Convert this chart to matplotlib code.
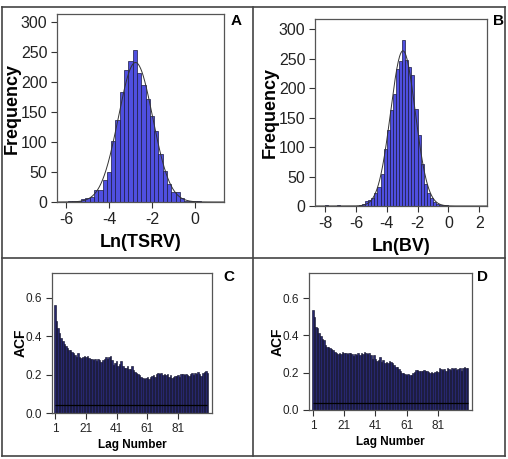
import numpy as np
import matplotlib
matplotlib.use("Agg")
import matplotlib.pyplot as plt
from matplotlib.lines import Line2D

plt.rcParams["font.family"] = ["Liberation Sans", "DejaVu Sans"]
plt.rcParams["axes.unicode_minus"] = False

# --- histogram A: Ln(TSRV), bin width 0.2 ---
tsrv_centers = [-5.8, -5.6, -5.4, -5.2, -5.0, -4.8, -4.6, -4.4, -4.2, -4.0,
                -3.8, -3.6, -3.4, -3.2, -3.0, -2.8, -2.6, -2.4, -2.2, -2.0,
                -1.8, -1.6, -1.4, -1.2, -1.0, -0.8, -0.6, -0.4, -0.2, 0.0, 0.2]
tsrv_counts = [1, 1, 2, 5, 7, 9, 20, 20, 36, 50,
               102, 137, 183, 220, 235, 254, 215, 196, 172, 143,
               118, 80, 52, 30, 17, 16, 6, 2, 1, 2, 2]

# --- histogram B: Ln(BV), bin width 0.2 ---
bv_centers = [-7.9, -7.1, -5.7, -5.5, -5.3, -5.1, -4.9, -4.7, -4.5, -4.3,
              -4.1, -3.9, -3.7, -3.5, -3.3, -3.1, -2.9, -2.7, -2.5, -2.3,
              -2.1, -1.9, -1.7, -1.5, -1.3, -1.1, -0.9, -0.7, -0.5, -0.3, -0.1]
bv_counts = [1, 1, 2, 4, 8, 10, 14, 22, 32, 55,
             97, 128, 163, 190, 232, 245, 281, 247, 236, 222,
             165, 120, 72, 38, 22, 14, 7, 4, 2, 1, 1]

# --- ACF panels, lags 1..100 ---
lags = list(range(1, 101))
acf_tsrv = [0.563, 0.480, 0.444, 0.418, 0.391, 0.373, 0.359, 0.350, 0.338, 0.329,
            0.326, 0.320, 0.312, 0.303, 0.294, 0.315, 0.290, 0.287, 0.290, 0.297,
            0.290, 0.297, 0.285, 0.280, 0.281, 0.276, 0.280, 0.273, 0.280, 0.276,
            0.265, 0.276, 0.283, 0.294, 0.280, 0.290, 0.297, 0.276, 0.250, 0.262,
            0.273, 0.244, 0.258, 0.273, 0.244, 0.237, 0.237, 0.244, 0.230, 0.232,
            0.244, 0.223, 0.214, 0.209, 0.205, 0.196, 0.188, 0.184, 0.177, 0.184,
            0.188, 0.175, 0.188, 0.191, 0.196, 0.188, 0.202, 0.209, 0.202, 0.209,
            0.200, 0.205, 0.196, 0.202, 0.188, 0.196, 0.182, 0.188, 0.195, 0.191,
            0.200, 0.188, 0.205, 0.202, 0.196, 0.205, 0.198, 0.191, 0.202, 0.207,
            0.200, 0.209, 0.202, 0.212, 0.205, 0.195, 0.209, 0.214, 0.219, 0.209]
acf_bv = [0.536, 0.496, 0.446, 0.438, 0.414, 0.396, 0.379, 0.375, 0.348, 0.339,
          0.339, 0.330, 0.325, 0.321, 0.313, 0.307, 0.300, 0.304, 0.300, 0.313,
          0.307, 0.307, 0.300, 0.307, 0.307, 0.300, 0.289, 0.300, 0.295, 0.304,
          0.296, 0.304, 0.300, 0.313, 0.304, 0.300, 0.307, 0.295, 0.275, 0.295,
          0.271, 0.264, 0.268, 0.286, 0.259, 0.268, 0.254, 0.257, 0.250, 0.264,
          0.259, 0.250, 0.241, 0.232, 0.229, 0.218, 0.211, 0.200, 0.196, 0.193,
          0.188, 0.193, 0.188, 0.189, 0.196, 0.205, 0.214, 0.214, 0.211, 0.211,
          0.207, 0.214, 0.211, 0.207, 0.205, 0.200, 0.204, 0.200, 0.204, 0.211,
          0.204, 0.223, 0.218, 0.214, 0.221, 0.211, 0.223, 0.218, 0.214, 0.225,
          0.218, 0.223, 0.214, 0.221, 0.223, 0.211, 0.225, 0.229, 0.223, 0.225]
conf_tsrv = 0.040
conf_bv = 0.038

HIST_FACE = "#4f4fe0"
HIST_EDGE = "#1a1a40"
ACF_FACE = "#27276e"
ACF_EDGE = "#0a0a22"
SPINE = "#555555"


def style_axes(ax, tick_size):
    for sp in ax.spines.values():
        sp.set_color(SPINE)
        sp.set_linewidth(0.9)
    ax.tick_params(direction="out", length=4.5, width=0.8, color="#333333",
                   labelsize=tick_size, labelcolor="#222222", pad=2.5)


def draw_hist(ax, centers, counts, xlim, ylim, xticks, xlabel, tag, tag_xy):
    c = np.asarray(centers, dtype=float)
    n = np.asarray(counts, dtype=float)
    width = 0.2
    ax.bar(c, n, width=width, color=HIST_FACE, edgecolor=HIST_EDGE, linewidth=0.5)
    # normal curve fitted to the binned data
    total = n.sum()
    mu = (c * n).sum() / total
    sd = np.sqrt(((c - mu) ** 2 * n).sum() / total)
    xs = np.linspace(xlim[0], xlim[1], 400)
    ys = total * width / (sd * np.sqrt(2 * np.pi)) * np.exp(-0.5 * ((xs - mu) / sd) ** 2)
    ax.plot(xs, ys, color="#333333", linewidth=0.7)
    ax.set_xlim(*xlim)
    ax.set_ylim(*ylim)
    ax.set_xticks(xticks)
    ax.set_yticks([0, 50, 100, 150, 200, 250, 300])
    ax.set_xlabel(xlabel, fontsize=13, fontweight="bold", labelpad=5)
    ax.set_ylabel("Frequency", fontsize=13, fontweight="bold", labelpad=0)
    style_axes(ax, 11.5)
    fig.text(tag_xy[0], tag_xy[1], tag, fontsize=11, fontweight="bold", ha="center", va="center")


def draw_acf(ax, values, conf, xlim, ylim, tag, tag_xy):
    ax.bar(lags, values, width=1.0, color=ACF_FACE, edgecolor=ACF_EDGE, linewidth=0.4)
    ax.hlines(conf, lags[0], lags[-1], color="black", linewidth=0.9)
    ax.set_xlim(*xlim)
    ax.set_ylim(*ylim)
    ax.set_xticks([1, 21, 41, 61, 81])
    ax.set_yticks([0.0, 0.2, 0.4, 0.6])
    ax.set_yticklabels(["0.0", "0.2", "0.4", "0.6"])
    ax.set_xlabel("Lag Number", fontsize=8.5, fontweight="bold", labelpad=3)
    ax.set_ylabel("ACF", fontsize=10, fontweight="bold", labelpad=-1)
    style_axes(ax, 8.5)
    fig.text(tag_xy[0], tag_xy[1], tag, fontsize=11, fontweight="bold", ha="center", va="center")


W, H = 508, 459
fig = plt.figure(figsize=(W / 100, H / 100), dpi=100)


def box(l, r, t, b):
    return [l / W, (H - b) / H, (r - l) / W, (b - t) / H]


ax_a = fig.add_axes(box(57, 224, 14, 202))
ax_b = fig.add_axes(box(315, 487, 19, 206))
ax_c = fig.add_axes(box(52, 212, 273, 413))
ax_d = fig.add_axes(box(309, 472, 273, 410))

draw_hist(ax_a, tsrv_centers, tsrv_counts, (-6.42, 1.35), (0, 314), [-6, -4, -2, 0],
          "Ln(TSRV)", "A", (236 / W, (H - 21) / H))
draw_hist(ax_b, bv_centers, bv_counts, (-8.65, 2.5), (0, 317), [-8, -6, -4, -2, 0, 2],
          "Ln(BV)", "B", (498 / W, (H - 21) / H))
draw_acf(ax_c, acf_tsrv, conf_tsrv, (-1, 103), (0, 0.73), "C", (229 / W, (H - 277) / H))
draw_acf(ax_d, acf_bv, conf_bv, (-1.5, 102.8), (0, 0.734), "D", (483 / W, (H - 277) / H))

# panel frame
frame_kw = dict(color="#444444", linewidth=1.2, transform=fig.transFigure)
xl, xr, xm = 2 / W, 505 / W, 253 / W
yt, yb, ym = (H - 7) / H, (H - 456) / H, (H - 258) / H
for xs_, ys_ in [([xl, xr], [yt, yt]), ([xl, xr], [yb, yb]), ([xl, xr], [ym, ym]),
                 ([xl, xl], [yb, yt]), ([xr, xr], [yb, yt]), ([xm, xm], [yb, yt])]:
    fig.add_artist(Line2D(xs_, ys_, **frame_kw))

fig.savefig("out.png", dpi=100)
